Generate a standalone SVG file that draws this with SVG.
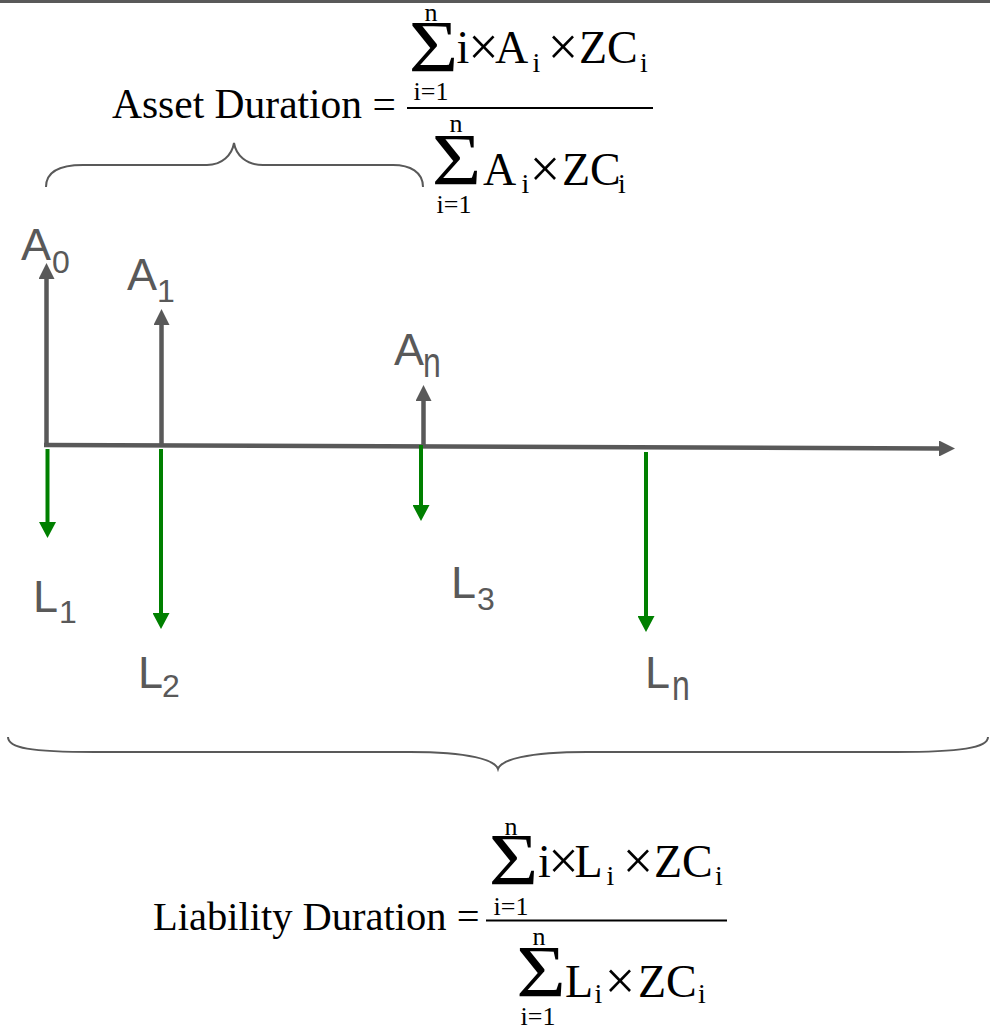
<svg xmlns="http://www.w3.org/2000/svg" width="990" height="1031" viewBox="0 0 990 1031">
<style>
.m{font-family:"Liberation Serif","Times New Roman",serif;font-size:46px;fill:#000}
.x{font-family:"Liberation Serif","Times New Roman",serif;font-size:54px;fill:#000;text-anchor:middle}
.s{font-family:"Liberation Serif","Times New Roman",serif;font-size:28px;fill:#000}
.l{font-family:"Liberation Serif","Times New Roman",serif;font-size:26px;fill:#000;text-anchor:middle}
.sig{font-family:"Liberation Serif","Times New Roman",serif;font-size:74px;fill:#000;text-anchor:middle}
.lbl{font-family:"Liberation Serif","Times New Roman",serif;font-size:41.5px;fill:#000}
.cf{font-family:"Liberation Sans",Arial,sans-serif;font-size:45px;fill:#595959}
.cs{font-family:"Liberation Sans",Arial,sans-serif;font-size:32px;fill:#595959}
.brace{fill:none;stroke:#595959;stroke-width:2}
.gray{stroke:#595959;stroke-width:4.5;fill:none;marker-end:url(#ahg)}
.green{stroke:#008000;stroke-width:4;fill:none;marker-end:url(#ahv)}
.fl{stroke:#000;stroke-width:2}
</style>
<defs>
<marker id="ahg" markerUnits="userSpaceOnUse" markerWidth="16" markerHeight="16" refX="0" refY="8" orient="auto"><path d="M0,0 L16,8 L0,16 z" fill="#595959"/></marker>
<marker id="ahv" markerUnits="userSpaceOnUse" markerWidth="16" markerHeight="17" refX="0" refY="8.5" orient="auto"><path d="M0,0 L16,8.5 L0,17 z" fill="#008000"/></marker>
</defs>
<rect x="0" y="0" width="990" height="3" fill="#595959"/>

<g id="asset-formula">
<text class="lbl" x="112" y="118">Asset Duration =</text>
<text class="l" x="431" y="21">n</text>
<text class="sig" transform="translate(433.5,72) scale(1.15,1)">Σ</text>
<text class="l" x="431" y="100">i=1</text>
<text class="m" x="456.5" y="63">i</text>
<text class="x" x="483.5" y="65">×</text>
<text class="m" x="495" y="63">A</text>
<text class="s" x="532.5" y="72">i</text>
<text class="x" x="563" y="65">×</text>
<text class="m" x="579" y="63">ZC</text>
<text class="s" x="640" y="72">i</text>
<line class="fl" x1="407" y1="108" x2="653" y2="108"/>
<text class="l" x="456" y="132">n</text>
<text class="sig" transform="translate(456.5,185) scale(1.15,1)">Σ</text>
<text class="l" x="454" y="213">i=1</text>
<text class="m" x="483" y="185">A</text>
<text class="s" x="521.5" y="193">i</text>
<text class="x" x="545" y="187">×</text>
<text class="m" x="562" y="185">ZC</text>
<text class="s" x="618" y="193">i</text>
</g>

<g id="asset-brace">
<path class="brace" d="M46,187 C46,172 60,165 83,165 L207,165 C222,165 232,155 234,143 C236,155 246,165 263,165 L393,165 C410,165 423,172 423,187"/>
</g>

<g id="connectors">
<line class="gray" x1="44" y1="445" x2="939" y2="448.5"/>
<line class="gray" x1="46.5" y1="447" x2="46.5" y2="279"/>
<line class="gray" x1="161.5" y1="446" x2="161.5" y2="325"/>
<line class="gray" x1="423.5" y1="447" x2="423.5" y2="401"/>
<line class="green" x1="47.5" y1="449" x2="47.5" y2="522"/>
<line class="green" x1="161" y1="449" x2="161" y2="613"/>
<line class="green" x1="421" y1="445" x2="421" y2="505"/>
<line class="green" x1="646" y1="452" x2="646" y2="616"/>
</g>

<g id="A0"><text class="cf" x="21" y="260">A</text><text class="cs" x="52" y="273">0</text></g>
<g id="A1"><text class="cf" x="127" y="290">A</text><text class="cs" x="157" y="302">1</text></g>
<g id="An"><text class="cf" x="394" y="365">A</text><text class="cs" transform="translate(423,377) scale(1,1.3)">n</text></g>
<g id="L1"><text class="cf" x="33" y="612">L</text><text class="cs" x="59" y="623">1</text></g>
<g id="L2"><text class="cf" x="138" y="688">L</text><text class="cs" x="162" y="697">2</text></g>
<g id="L3"><text class="cf" x="451" y="598">L</text><text class="cs" x="477" y="610">3</text></g>
<g id="Ln"><text class="cf" x="645" y="688">L</text><text class="cs" transform="translate(672,700) scale(1,1.3)">n</text></g>

<g id="liability-brace">
<path class="brace" d="M8,737 C8,748 30,752 95,752 L410,752 C470,752 495,760 498,769 C501,760 526,752 587,752 L896,752 C960,752 988,748 988,737"/>
</g>

<g id="liability-formula">
<text class="lbl" x="153" y="930" style="font-size:40.5px">Liability Duration =</text>
<text class="l" x="511" y="835">n</text>
<text class="sig" transform="translate(513.5,885) scale(1.15,1)">Σ</text>
<text class="l" x="511" y="915">i=1</text>
<text class="m" x="538" y="877">i</text>
<text class="x" x="563.5" y="879">×</text>
<text class="m" x="574.5" y="877">L</text>
<text class="s" x="606.5" y="885">i</text>
<text class="x" x="638" y="879">×</text>
<text class="m" x="654" y="877">ZC</text>
<text class="s" x="715" y="885">i</text>
<line class="fl" x1="486" y1="920.5" x2="727" y2="920.5"/>
<text class="l" x="539" y="945">n</text>
<text class="sig" transform="translate(541,997) scale(1.15,1)">Σ</text>
<text class="l" x="538" y="1025">i=1</text>
<text class="m" x="565" y="997">L</text>
<text class="s" x="594.5" y="1003">i</text>
<text class="x" x="620" y="999">×</text>
<text class="m" x="638" y="997">ZC</text>
<text class="s" x="698" y="1003">i</text>
</g>
</svg>
